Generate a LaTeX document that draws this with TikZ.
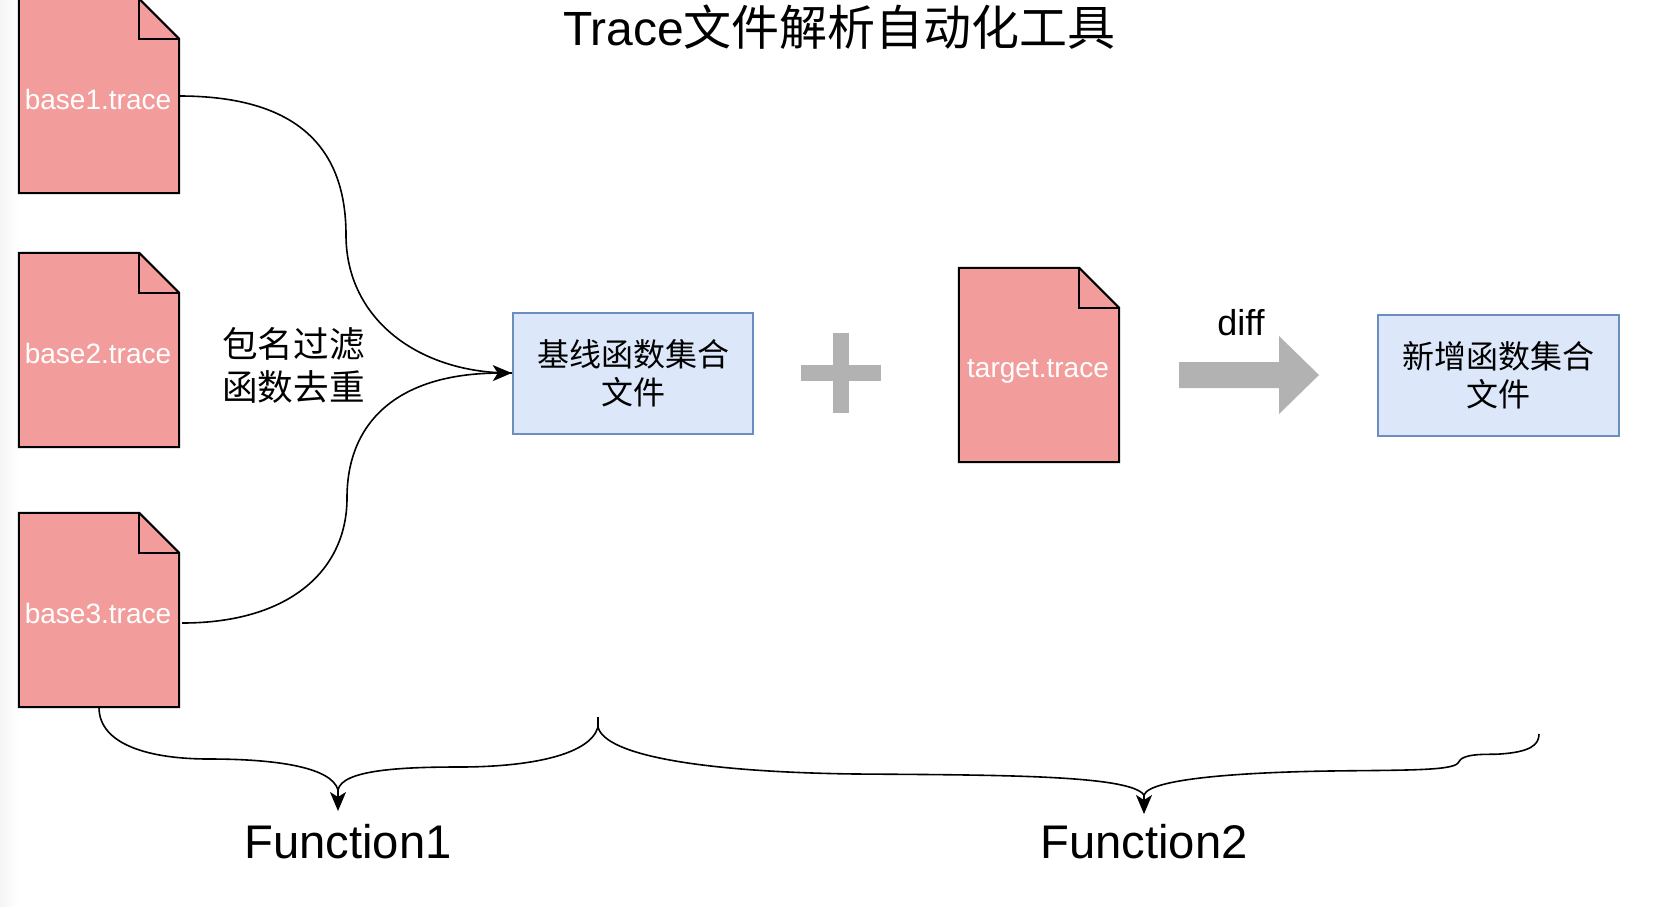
\documentclass[tikz,border=0pt]{standalone}
\usepackage{fontspec}
\setmainfont{Liberation Sans}
\newfontfamily\cjk{Noto Sans CJK SC}
\usetikzlibrary{arrows.meta,calc}
\definecolor{docred}{HTML}{F29D9B}
\definecolor{boxblue}{HTML}{DCE8FA}
\definecolor{boxedge}{HTML}{6C8EBF}
\definecolor{symgrey}{HTML}{B2B2B2}
\tikzset{
  docbox/.style={inner sep=0pt,minimum width=160pt,minimum height=194pt},
  docline/.style={draw=black,line width=2pt,fill=docred,line join=miter},
  doclabel/.style={text=white,font=\fontsize{28}{32}\selectfont,inner sep=0pt},
  bluebox/.style={draw=boxedge,fill=boxblue,line width=2pt,minimum width=240.5pt,minimum height=121pt,inner sep=0pt,align=center,font=\fontsize{32}{38}\selectfont\cjk},
  link/.style={draw=black,line width=1.6pt},
  tipped/.style={link,-{Stealth[length=19pt,width=16pt,inset=5pt]}},
  biglabel/.style={font=\fontsize{47.2}{52}\selectfont,inner sep=0pt},
  symbol/.style={fill=symgrey,draw=none}
}
\newcommand{\docshape}[1]{%
  \path[docline] (#1.north west) -- ($(#1.north east)+(-40,0)$) -- ($(#1.north east)+(0,40)$) -- (#1.south east) -- (#1.south west) -- cycle;
  \path[draw=black,line width=2pt,line join=miter] ($(#1.north east)+(-40,0)$) -- ($(#1.north east)+(-40,40)$) -- ($(#1.north east)+(0,40)$);
}
\begin{document}
\begin{tikzpicture}[x=1pt,y=-1pt]
\path[use as bounding box,clip] (0,0) rectangle (1678,906);
\fill[white] (0,0) rectangle (1678,906);
\shade[left color=black!4,right color=white,draw=none] (0,0) rectangle (18,906);

\node[font=\fontsize{48}{52}\selectfont,inner sep=0pt] (title) at (839.5,27) {Trace{\cjk 文件解析自动化工具}};

\node[docbox] (base1) at (99,96) {};
\node[docbox] (base2) at (99,350) {};
\node[docbox] (base3) at (99,610) {};
\node[docbox] (target) at (1039,365) {};
\docshape{base1}\docshape{base2}\docshape{base3}\docshape{target}
\node[doclabel] (base1t) at (98,99) {base1.trace};
\node[doclabel] (base2t) at (98,353) {base2.trace};
\node[doclabel] (base3t) at (98,613) {base3.trace};
\node[doclabel] (targett) at (1038,371) {target.trace};

\node[bluebox] (funcs) at (633,373) {基线函数集合\\文件};
\node[bluebox] (newfuncs) at (1498.7,375) {新增函数集合\\文件};

\node[inner sep=0pt,align=center,font=\fontsize{35.6}{43}\selectfont\cjk] (filter) at (293.5,365) {包名过滤\\函数去重};
\node[inner sep=0pt,font=\fontsize{36}{40}\selectfont] (diff) at (1241,323) {diff};
\node[biglabel] (f1) at (348,842) {Function1};
\node[biglabel] (f2) at (1144,842) {Function2};

% plus sign
\path[symbol] (832.8,333) rectangle (849.2,413);
\path[symbol] (801,364.8) rectangle (881,381.2);
% block arrow
\path[symbol] (1179,362) -- (1279,362) -- (1279,336) -- (1319,375) -- (1279,414) -- (1279,388) -- (1179,388) -- cycle;

% connectors
\draw[link] (base1.east) .. controls (300,96) and (346,150) .. (346,235)
  .. controls (346,320) and (420,373.5) .. (funcs.west);
\coordinate (b3out) at ($(base3.east)+(3,13)$);
\draw[tipped] (b3out) .. controls (290,623) and (347,570) .. (347,498)
  .. controls (347,420) and (400,373.5) .. (funcs.west);

% braces
\coordinate (tipA) at (338,811);
\coordinate (mergeA) at (338,790);
\coordinate (forkB) at (598,727);
\coordinate (topB) at (598,717);
\coordinate (tipC) at (1144,814);
\coordinate (mergeC) at (1144,795);
\coordinate (endC) at (1539,734);
\draw[link] (base3.south) .. controls (99,745) and (150,759) .. (209,759)
  .. controls (280,759) and (332,768) .. (mergeA);
\draw[link] (topB) -- (forkB) .. controls (590,755) and (530,767) .. (459,767)
  .. controls (400,767) and (342,770) .. (mergeA);
\draw[tipped] (mergeA) -- (tipA);
\draw[link] (forkB) .. controls (605,755) and (700,772) .. (856,774)
  .. controls (1000,775) and (1130,775) .. (mergeC);
\draw[link] (mergeC) .. controls (1150,777) and (1260,772) .. (1330,771)
  .. controls (1400,770) and (1452,771) .. (1458,763)
  .. controls (1462,752) and (1490,755) .. (1500,754)
  .. controls (1530,752) and (1539,745) .. (endC);
\draw[tipped] (mergeC) -- (tipC);
\end{tikzpicture}
\end{document}
